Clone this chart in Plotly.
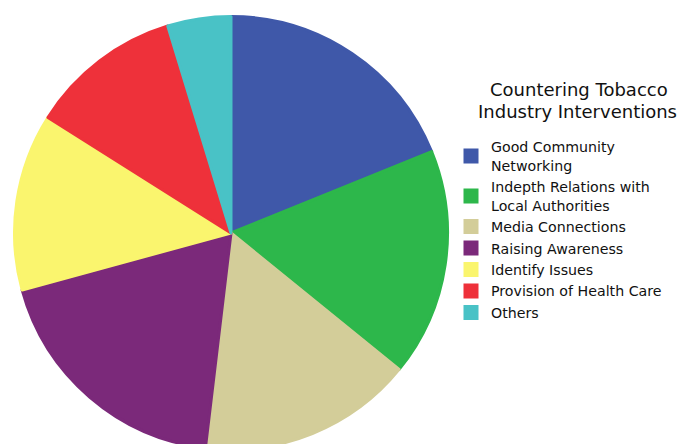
import plotly.graph_objects as go

# Responses by intervention type
categories = [
    "Good Community<br>Networking",
    "Indepth Relations with<br>Local Authorities",
    "Media Connections",
    "Raising Awareness",
    "Identify Issues",
    "Provision of Health Care",
    "Others",
]
counts = [20, 18, 17, 20, 14, 12, 5]
colors = ["#3F58A9", "#2DB74B", "#D3CD99", "#7B297A", "#FAF56E", "#EE313A", "#49C2C6"]
title_lines = ["Countering Tobacco", "Industry Interventions"]

W, H = 680, 452
FONT = "DejaVu Sans, Verdana, sans-serif"
EDGE = 3  # slice outline in the slice's own colour (also enlarges legend swatches)


def py(px):
    """Convert a pixel row (from the top) into paper coordinates."""
    return 1 - px / H


inset = EDGE / 2
fig = go.Figure(
    go.Pie(
        labels=categories,
        values=counts,
        sort=False,
        direction="clockwise",
        rotation=0,
        textinfo="none",
        hoverinfo="label+value+percent",
        marker=dict(colors=colors, line=dict(color=colors, width=EDGE)),
        domain=dict(
            x=[(13 + inset) / W, (449 - inset) / W],
            y=[py(451 - inset), py(15 + inset)],
        ),
    )
)

fig.update_layout(
    width=W,
    height=H,
    margin=dict(l=0, r=0, t=0, b=0),
    paper_bgcolor="white",
    plot_bgcolor="white",
    showlegend=True,
    legend=dict(
        x=451 / W,
        xanchor="left",
        y=py(131),
        yanchor="top",
        font=dict(family=FONT, size=14.2, color="#111111"),
        bgcolor="rgba(0,0,0,0)",
        borderwidth=0,
    ),
    annotations=[
        dict(
            text=title_lines[0],
            x=579 / W,
            y=py(90),
            xref="paper",
            yref="paper",
            xanchor="center",
            yanchor="middle",
            showarrow=False,
            font=dict(family=FONT, size=18, color="#111111"),
        ),
        dict(
            text=title_lines[1],
            x=577 / W,
            y=py(112),
            xref="paper",
            yref="paper",
            xanchor="center",
            yanchor="middle",
            showarrow=False,
            font=dict(family=FONT, size=18, color="#111111"),
        ),
    ],
)

fig.write_html(
    "out.html",
    post_script="document.documentElement.style.overflow='hidden';document.body.style.overflow='hidden';document.body.style.margin='0';",
)
